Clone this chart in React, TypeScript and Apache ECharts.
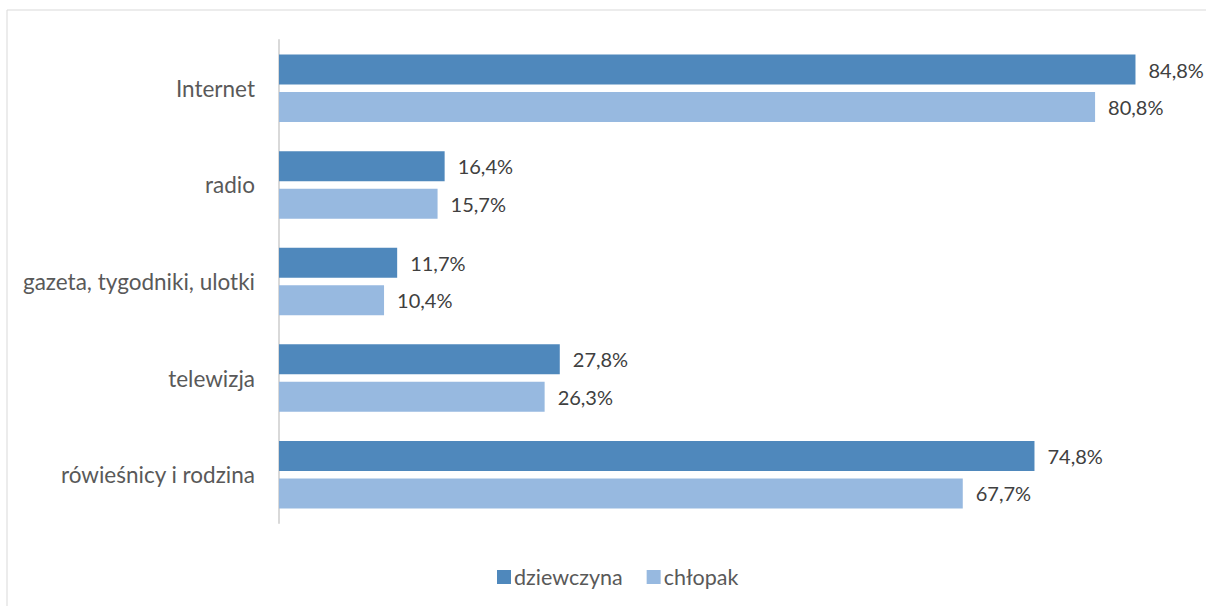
import React, { useEffect, useRef } from "react";
import * as echarts from "echarts";

const categories = [
  "Internet",
  "radio",
  "gazeta, tygodniki, ulotki",
  "telewizja",
  "rówieśnicy i rodzina",
];
const seriesNames = ["dziewczyna", "chłopak"];
const girlValues = [84.8, 16.4, 11.7, 27.8, 74.8];
const boyValues = [80.8, 15.7, 10.4, 26.3, 67.7];

const FONT = "Lato, 'Open Sans', sans-serif";

export default function App() {
  const ref = useRef<HTMLDivElement>(null);
  useEffect(() => {
    if (!ref.current) return;
    const chart = echarts.init(ref.current, undefined, { renderer: "svg" });
    const fmt = (p: any) => p.value.toFixed(1).replace(".", ",") + "%";
    const labelStyle = {
      show: true,
      position: "right",
      distance: 13,
      formatter: fmt,
      color: "#404040",
      fontSize: 20,
      fontFamily: FONT,
    };
    chart.setOption({
      animation: false,
      backgroundColor: "#ffffff",
      textStyle: { fontFamily: FONT },
      graphic: [
        {
          type: "rect",
          shape: { x: 7, y: 10, width: 1300, height: 700 },
          style: { fill: "none", stroke: "#d9d9d9", lineWidth: 1 },
          silent: true,
        },
      ],
      legend: {
        data: seriesNames,
        left: 492,
        top: 561,
        itemWidth: 14,
        itemHeight: 14,
        itemGap: 24,
        icon: "rect",
        textStyle: { color: "#595959", fontSize: 21.5, fontFamily: FONT, padding: [0, 0, 0, -2] },
      },
      grid: { left: 279, right: 18, top: 40, bottom: 83, containLabel: false },
      xAxis: {
        type: "value",
        min: 0,
        max: 90,
        show: false,
        splitLine: { show: false },
      },
      yAxis: {
        type: "category",
        data: categories,
        inverse: true,
        axisLine: { show: true, lineStyle: { color: "#d9d9d9", width: 2 } },
        axisTick: { show: false },
        axisLabel: { color: "#595959", fontSize: 22.5, fontFamily: FONT, margin: 24 },
      },
      series: [
        {
          name: seriesNames[0],
          type: "bar",
          data: girlValues,
          barWidth: 30,
          barGap: "25%",
          itemStyle: { color: "#4F88BC" },
          label: labelStyle,
        },
        {
          name: seriesNames[1],
          type: "bar",
          data: boyValues,
          barWidth: 30,
          barGap: "25%",
          itemStyle: { color: "#97B9E0" },
          label: labelStyle,
        },
      ],
    });
    return () => chart.dispose();
  }, []);
  return (
    <div
      ref={ref}
      style={{ position: "absolute", left: 0, top: 0, width: 1206, height: 606 }}
    />
  );
}
